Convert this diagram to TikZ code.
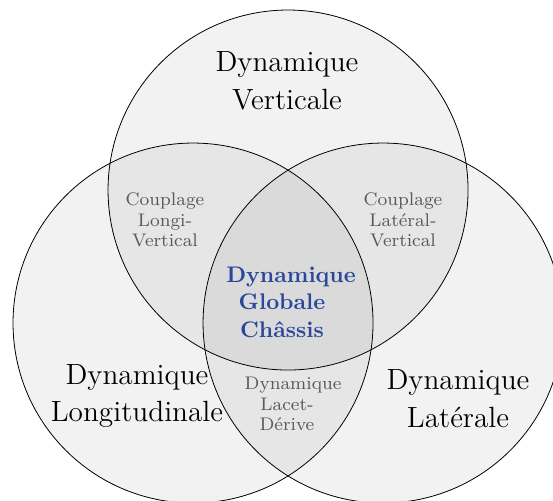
\documentclass[tikz,border=0pt]{standalone}
\definecolor{coreblue}{RGB}{42,72,155}
\begin{document}
\begin{tikzpicture}[x=0.454545pt,y=-0.454545pt,scale=2.2,
  every node/.append style={transform shape,inner sep=0pt},
  setfill/.style={fill=black,fill opacity=0.05,draw=none},
  ring/.style={draw=black,line width=0.8pt},
  bigtext/.style={font=\fontsize{13.3}{17.2}\selectfont,align=center,text=black},
  smalltext/.style={font=\fontsize{8.3}{9.4}\selectfont,align=center,text=black!65},
  coretext/.style={font=\fontsize{10.25}{12.5}\selectfont\bfseries,align=center,text=coreblue}]
\useasboundingbox (0,0) rectangle (553,500);
\coordinate (cV) at (288,190);
\coordinate (cL) at (193,323);
\coordinate (cR) at (383,323);
\foreach \c in {cV,cL,cR} \fill[setfill] (\c) circle[radius=81.818pt];
\foreach \c in {cV,cL,cR} \draw[ring] (\c) circle[radius=81.818pt];
\node[bigtext] (tV) at (287,81) {Dynamique\\Verticale};
\node[bigtext] (tLo) at (137,396) {Dynamique\\Longitudinale};
\node[bigtext] (tLa) at (458,399) {Dynamique\\Latérale};
\node[smalltext] (tCLV) at (165,220) {Couplage\\Longi-\\Vertical};
\node[smalltext] (tCRV) at (403,220) {Couplage\\Latéral-\\Vertical};
\node[smalltext] (tLD) at (287,404) {\hspace*{5.5pt}Dynamique\\Lacet-\\Dérive};
\node[coretext] (tG) at (282,302) {\hspace*{8.2pt}Dynamique\\Globale\\Châssis};
\end{tikzpicture}
\end{document}
